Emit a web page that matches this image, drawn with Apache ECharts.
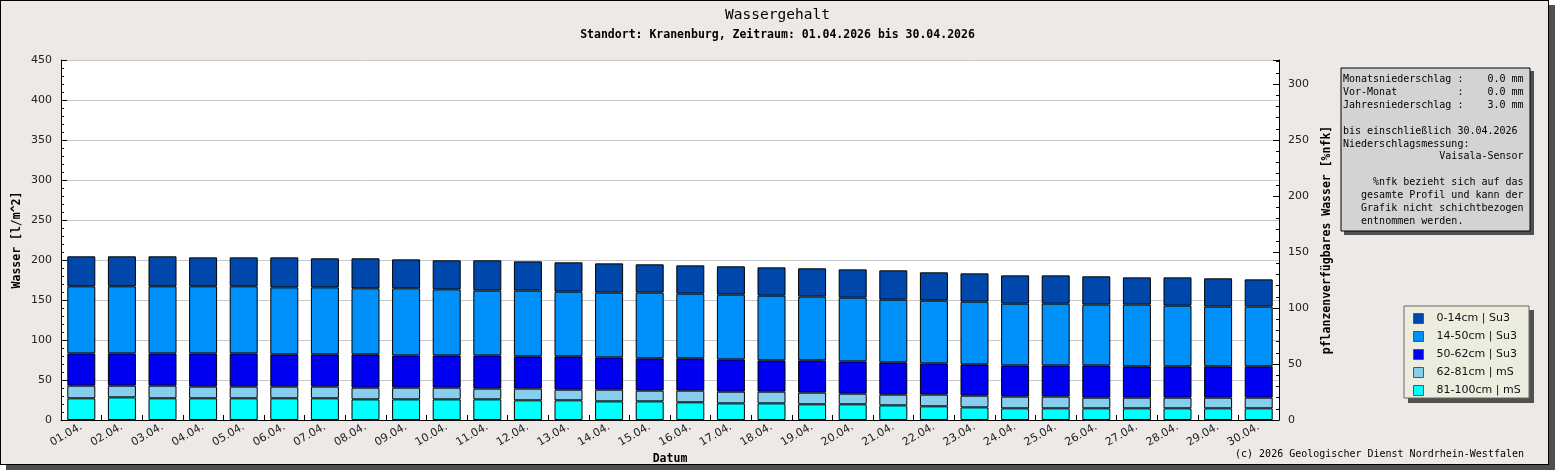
<!DOCTYPE html>
<html>
<head>
<meta charset="utf-8">
<script src="https://cdn.jsdelivr.net/npm/echarts@6/dist/echarts.min.js"></script>
<style>
  body { margin: 0; background: #ffffff; }
  #frame {
    position: absolute; left: 0; top: 0;
    width: 1549px; height: 465px;
    box-sizing: border-box;
    background: #ece9e7;
    border: 1px solid #000;
    box-shadow: 6px 5px 0 #505050;
  }
  #chart { position: absolute; left: 0; top: 0; width: 1555px; height: 470px; }
</style>
</head>
<body>
<div id="frame"></div>
<div id="chart"></div>
<script>
// Tage im April 2026
const dates = ['01.04.', '02.04.', '03.04.', '04.04.', '05.04.', '06.04.', '07.04.', '08.04.', '09.04.', '10.04.',
  '11.04.', '12.04.', '13.04.', '14.04.', '15.04.', '16.04.', '17.04.', '18.04.', '19.04.', '20.04.',
  '21.04.', '22.04.', '23.04.', '24.04.', '25.04.', '26.04.', '27.04.', '28.04.', '29.04.', '30.04.'];

// Wassergehalt je Schicht in l/m^2 (von unten nach oben gestapelt)
const layer81_100 = [27.1, 28.3, 27.1, 27.1, 27.1, 27.1, 27.1, 25.8, 25.8, 25.8,
  25.8, 24.6, 24.6, 23.3, 23.3, 22.1, 20.8, 20.8, 19.6, 19.6,
  18.3, 17.1, 15.8, 14.6, 14.6, 14.6, 14.6, 14.6, 14.6, 14.6];
const layer62_81 = [15.8, 14.6, 15.8, 14.6, 14.6, 14.6, 14.6, 14.6, 14.6, 14.6,
  13.4, 14.6, 13.3, 14.6, 13.4, 14.6, 14.6, 14.6, 14.6, 13.3,
  13.4, 14.6, 14.6, 14.6, 14.6, 13.3, 13.3, 13.3, 13.3, 13.3];
const layer50_62 = [40.4, 40.4, 40.4, 41.6, 41.6, 40.4, 40.4, 41.7, 40.4, 40.4,
  41.6, 40.4, 41.7, 40.4, 40.4, 40.4, 40.4, 39.2, 40.4, 40.4,
  40.4, 39.1, 39.2, 39.1, 39.1, 40.4, 39.2, 39.2, 39.2, 39.2];
const layer14_50 = [83.8, 83.8, 83.8, 83.8, 83.8, 83.7, 83.7, 82.5, 83.8, 82.5,
  80.9, 82.1, 80.8, 80.9, 82.1, 80.8, 80.9, 80.8, 79.6, 79.6,
  78.3, 78.4, 78.3, 77.1, 77.1, 75.9, 77.1, 75.8, 74.6, 74.6];
const layer0_14 = [37.5, 37.5, 37.5, 36.2, 36.2, 37.5, 36.3, 37.5, 36.2, 36.3,
  37.9, 36.6, 36.7, 36.6, 35.4, 35.4, 35.4, 35.4, 35.4, 35.4,
  36.7, 35.4, 35.4, 35.4, 35.4, 35.4, 34.1, 35.4, 35.4, 34.1];

const layerNames = ['81-100cm | mS', '62-81cm | mS', '50-62cm | Su3', '14-50cm | Su3', '0-14cm | Su3'];
const layerColors = ['#00ffff', '#87ceee', '#0000f0', '#0090fa', '#0047ab'];
const layerData = [layer81_100, layer62_81, layer50_62, layer14_50, layer0_14];

const leftTicks = { min: 0, max: 450, interval: 50 };
// 100 %nfk entsprechen 140 l/m^2
const nfkMax = 450 / 140 * 100;

const infoLines = [
  'Monatsniederschlag :    0.0 mm',
  'Vor-Monat          :    0.0 mm',
  'Jahresniederschlag :    3.0 mm',
  '',
  'bis einschließlich 30.04.2026',
  'Niederschlagsmessung:',
  '                Vaisala-Sensor',
  '',
  '     %nfk bezieht sich auf das',
  '   gesamte Profil und kann der',
  '   Grafik nicht schichtbezogen',
  '   entnommen werden.'
];

const mono = '"DejaVu Sans Mono", monospace';
const sans = '"DejaVu Sans", sans-serif';

const chart = echarts.init(document.getElementById('chart'));

const option = {
  backgroundColor: 'transparent',
  animation: false,
  title: [
    {
      text: 'Wassergehalt',
      left: 'center',
      top: 3,
      textStyle: { fontFamily: mono, fontSize: 14.5, fontWeight: 'normal', color: '#000' }
    },
    {
      text: 'Standort: Kranenburg, Zeitraum: 01.04.2026 bis 30.04.2026',
      left: 'center',
      top: 24,
      textStyle: { fontFamily: mono, fontSize: 11.5, fontWeight: 'bold', color: '#000' }
    }
  ],
  grid: {
    left: 61,
    right: 276,
    top: 60,
    bottom: 50,
    outerBoundsMode: 'none',
    containLabel: false,
    show: true,
    backgroundColor: '#fff',
    borderWidth: 0
  },
  legend: {
    orient: 'vertical',
    left: 1413,
    top: 313,
    padding: 0,
    itemWidth: 10,
    itemHeight: 10,
    itemGap: 7,
    icon: 'rect',
    data: layerNames.slice().reverse(),
    textStyle: { fontFamily: sans, fontSize: 11, color: '#111', lineHeight: 10, padding: [0, 0, 0, 8] },
    itemStyle: { borderColor: '#555', borderWidth: 1 }
  },
  xAxis: {
    type: 'category',
    data: dates,
    name: 'Datum',
    nameLocation: 'middle',
    nameGap: 33,
    nameMoveOverlap: false,
    nameTextStyle: { fontFamily: mono, fontSize: 11.5, fontWeight: 'bold', color: '#000' },
    axisLine: { lineStyle: { color: '#000', width: 1 } },
    axisTick: { show: true, inside: true, length: 5, lineStyle: { color: '#000' } },
    axisLabel: { rotate: 30, interval: 0, margin: 6, fontFamily: sans, fontSize: 11, color: '#222' },
    splitLine: { show: false }
  },
  yAxis: [
    {
      type: 'value',
      min: leftTicks.min,
      max: leftTicks.max,
      interval: leftTicks.interval,
      name: 'Wasser [l/m^2]',
      nameLocation: 'middle',
      nameGap: 38,
      nameRotate: 90,
      nameMoveOverlap: false,
      nameTextStyle: { fontFamily: mono, fontSize: 11.5, fontWeight: 'bold', color: '#000' },
      axisLine: { show: true, lineStyle: { color: '#000', width: 1 } },
      axisTick: { show: true, inside: true, length: 6, lineStyle: { color: '#000' } },
      minorTick: { show: true, splitNumber: 5, length: 3, lineStyle: { color: '#000' } },
      axisLabel: { margin: 9, fontFamily: sans, fontSize: 11, color: '#222' },
      splitLine: { show: true, lineStyle: { color: '#c8c8c8', width: 1 } }
    },
    {
      type: 'value',
      position: 'right',
      min: 0,
      max: nfkMax,
      interval: 50,
      name: 'pflanzenverfügbares Wasser [%nfk]',
      nameLocation: 'middle',
      nameGap: 42,
      nameRotate: 90,
      nameMoveOverlap: false,
      nameTextStyle: { fontFamily: mono, fontSize: 11.5, fontWeight: 'bold', color: '#000' },
      axisLine: { show: true, lineStyle: { color: '#000', width: 1 } },
      axisTick: { show: true, inside: true, length: 6, lineStyle: { color: '#000' } },
      minorTick: { show: true, splitNumber: 5, length: 3, lineStyle: { color: '#000' } },
      axisLabel: {
        margin: 9, fontFamily: sans, fontSize: 11, color: '#222',
        formatter: v => (Math.abs(v % 50) < 1e-6 ? String(v) : '')
      },
      splitLine: { show: false }
    }
  ],
  series: layerData.map((d, i) => ({
    name: layerNames[i],
    type: 'bar',
    stack: 'wasser',
    barWidth: 28,
    data: d,
    itemStyle: { color: layerColors[i], borderColor: '#000', borderWidth: 1 }
  })),
  graphic: [
    // Infobox rechts oben
    { type: 'rect', shape: { x: 1344, y: 71, width: 190, height: 164 }, style: { fill: '#505050' }, z: 1 },
    { type: 'rect', shape: { x: 1341, y: 68, width: 189, height: 163 }, style: { fill: '#d3d3d3', stroke: '#000', lineWidth: 1 }, z: 2 },
    {
      type: 'text', left: 1343, top: 73, z: 3,
      style: { text: infoLines.join('\n'), font: '10px ' + mono, fill: '#000', lineHeight: 12.9 }
    },
    // Legendenrahmen
    { type: 'rect', shape: { x: 1408, y: 310, width: 126, height: 93 }, style: { fill: '#505050' }, z: 1 },
    { type: 'rect', shape: { x: 1404, y: 306, width: 125, height: 92 }, style: { fill: '#ededdf', stroke: '#666', lineWidth: 1 }, z: 2 },
    // Copyright
    {
      type: 'text', right: 31, top: 449, z: 3,
      style: { text: '(c) 2026 Geologischer Dienst Nordrhein-Westfalen', font: '10px ' + mono, fill: '#000' }
    }
  ]
};

chart.setOption(option);
</script>
</body>
</html>
